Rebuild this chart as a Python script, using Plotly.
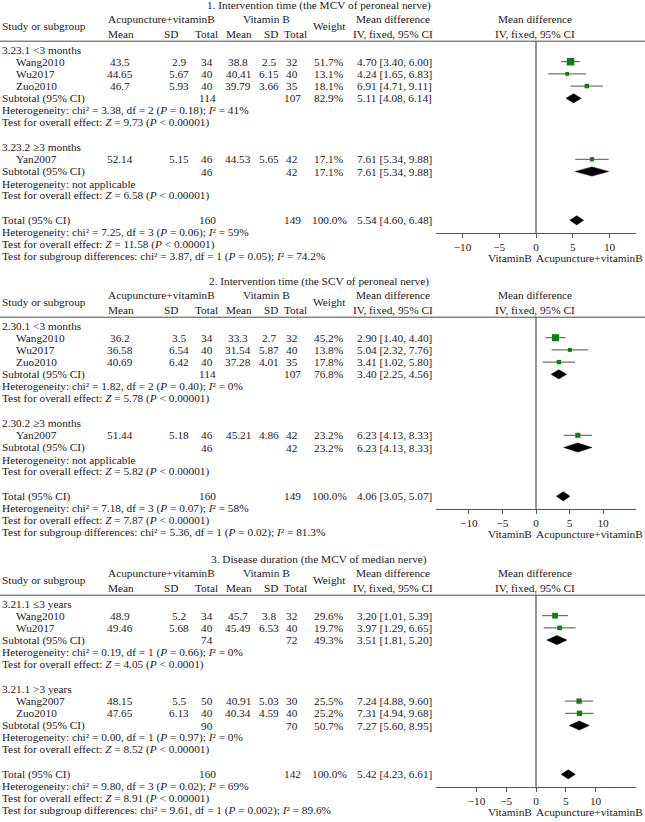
import math
import plotly.graph_objects as go

W, H = 645, 822
FONT = "Liberation Serif"
TXT = "#1c1a1b"

# ---------------- data ----------------
titles = [
    "1. Intervention time (the MCV of peroneal nerve)",
    "2. Intervention time (the SCV of peroneal nerve)",
    "3. Disease duration (the MCV of median nerve)",
]
tick_vals = [-10, -5, 0, 5, 10]
tick_text = ["\u221210", "\u22125", "0", "5", "10"]
axis_left_label = "VitaminB"
axis_right_label = "Acupuncture+vitaminB"

# Panel 1
p1_group_labels = ["3.23.1 &lt;3 months", "3.23.2 \u22653 months"]
p1_study = ["Wang2010", "Wu2017", "Zuo2010", "Yan2007"]
p1_group = [0, 0, 0, 1]
p1_exp_mean = [43.5, 44.65, 46.7, 52.14]
p1_exp_sd = [2.9, 5.67, 5.93, 5.15]
p1_exp_n = [34, 40, 40, 46]
p1_ctl_mean = [38.8, 40.41, 39.79, 44.53]
p1_ctl_sd = [2.5, 6.15, 3.66, 5.65]
p1_ctl_n = [32, 40, 35, 42]
p1_weight = [51.7, 13.1, 18.1, 17.1]
p1_md = [4.70, 4.24, 6.91, 7.61]
p1_lo = [3.40, 1.65, 4.71, 5.34]
p1_hi = [6.00, 6.83, 9.11, 9.88]
p1_sub_exp_n = [114, 46]
p1_sub_ctl_n = [107, 42]
p1_sub_weight = [82.9, 17.1]
p1_sub_md = [5.11, 7.61]
p1_sub_lo = [4.08, 5.34]
p1_sub_hi = [6.14, 9.88]
p1_sub_het = ["chi\u00b2 = 3.38, df = 2 (<i>P</i> = 0.18); <i>I</i>\u00b2 = 41%", "not applicable"]
p1_sub_z = ["<i>Z</i> = 9.73 (<i>P</i> &lt; 0.00001)", "<i>Z</i> = 6.58 (<i>P</i> &lt; 0.00001)"]
p1_total = [160, 149, 100.0, 5.54, 4.60, 6.48]
p1_total_het = "chi\u00b2 = 7.25, df = 3 (<i>P</i> = 0.06); <i>I</i>\u00b2 = 59%"
p1_total_z = "<i>Z</i> = 11.58 (<i>P</i> &lt; 0.00001)"
p1_subdiff = "chi\u00b2 = 3.87, df = 1 (<i>P</i> = 0.05); <i>I</i>\u00b2 = 74.2%"

# Panel 2
p2_group_labels = ["2.30.1 &lt;3 months", "2.30.2 \u22653 months"]
p2_study = ["Wang2010", "Wu2017", "Zuo2010", "Yan2007"]
p2_group = [0, 0, 0, 1]
p2_exp_mean = [36.2, 36.58, 40.69, 51.44]
p2_exp_sd = [3.5, 6.54, 6.42, 5.18]
p2_exp_n = [34, 40, 40, 46]
p2_ctl_mean = [33.3, 31.54, 37.28, 45.21]
p2_ctl_sd = [2.7, 5.87, 4.01, 4.86]
p2_ctl_n = [32, 40, 35, 42]
p2_weight = [45.2, 13.8, 17.8, 23.2]
p2_md = [2.90, 5.04, 3.41, 6.23]
p2_lo = [1.40, 2.32, 1.02, 4.13]
p2_hi = [4.40, 7.76, 5.80, 8.33]
p2_sub_exp_n = [114, 46]
p2_sub_ctl_n = [107, 42]
p2_sub_weight = [76.8, 23.2]
p2_sub_md = [3.40, 6.23]
p2_sub_lo = [2.25, 4.13]
p2_sub_hi = [4.56, 8.33]
p2_sub_het = ["chi\u00b2 = 1.82, df = 2 (<i>P</i> = 0.40); <i>I</i>\u00b2 = 0%", "not applicable"]
p2_sub_z = ["<i>Z</i> = 5.78 (<i>P</i> &lt; 0.00001)", "<i>Z</i> = 5.82 (<i>P</i> &lt; 0.00001)"]
p2_total = [160, 149, 100.0, 4.06, 3.05, 5.07]
p2_total_het = "chi\u00b2 = 7.18, df = 3 (<i>P</i> = 0.07); <i>I</i>\u00b2 = 58%"
p2_total_z = "<i>Z</i> = 7.87 (<i>P</i> &lt; 0.00001)"
p2_subdiff = "chi\u00b2 = 5.36, df = 1 (<i>P</i> = 0.02); <i>I</i>\u00b2 = 81.3%"

# Panel 3
p3_group_labels = ["3.21.1 \u22643 years", "3.21.1 &gt;3 years"]
p3_study = ["Wang2010", "Wu2017", "Wang2007", "Zuo2010"]
p3_group = [0, 0, 1, 1]
p3_exp_mean = [48.9, 49.46, 48.15, 47.65]
p3_exp_sd = [5.2, 5.68, 5.5, 6.13]
p3_exp_n = [34, 40, 50, 40]
p3_ctl_mean = [45.7, 45.49, 40.91, 40.34]
p3_ctl_sd = [3.8, 6.53, 5.03, 4.59]
p3_ctl_n = [32, 40, 30, 40]
p3_weight = [29.6, 19.7, 25.5, 25.2]
p3_md = [3.20, 3.97, 7.24, 7.31]
p3_lo = [1.01, 1.29, 4.88, 4.94]
p3_hi = [5.39, 6.65, 9.60, 9.68]
p3_sub_exp_n = [74, 90]
p3_sub_ctl_n = [72, 70]
p3_sub_weight = [49.3, 50.7]
p3_sub_md = [3.51, 7.27]
p3_sub_lo = [1.81, 5.60]
p3_sub_hi = [5.20, 8.95]
p3_sub_het = ["chi\u00b2 = 0.19, df = 1 (<i>P</i> = 0.66); <i>I</i>\u00b2 = 0%", "chi\u00b2 = 0.00, df = 1 (<i>P</i> = 0.97); <i>I</i>\u00b2 = 0%"]
p3_sub_z = ["<i>Z</i> = 4.05 (<i>P</i> &lt; 0.0001)", "<i>Z</i> = 8.52 (<i>P</i> &lt; 0.00001)"]
p3_total = [160, 142, 100.0, 5.42, 4.23, 6.61]
p3_total_het = "chi\u00b2 = 9.80, df = 3 (<i>P</i> = 0.02); <i>I</i>\u00b2 = 69%"
p3_total_z = "<i>Z</i> = 8.91 (<i>P</i> &lt; 0.00001)"
p3_subdiff = "chi\u00b2 = 9.61, df = 1 (<i>P</i> = 0.002); <i>I</i>\u00b2 = 89.6%"

panels = [
    dict(title=titles[0], glabels=p1_group_labels, study=p1_study, group=p1_group,
         em=p1_exp_mean, esd=p1_exp_sd, en=p1_exp_n, cm=p1_ctl_mean, csd=p1_ctl_sd, cn=p1_ctl_n,
         w=p1_weight, md=p1_md, lo=p1_lo, hi=p1_hi,
         sen=p1_sub_exp_n, scn=p1_sub_ctl_n, sw=p1_sub_weight, smd=p1_sub_md, slo=p1_sub_lo, shi=p1_sub_hi,
         shet=p1_sub_het, sz=p1_sub_z, tot=p1_total, thet=p1_total_het, tz=p1_total_z, sdiff=p1_subdiff),
    dict(title=titles[1], glabels=p2_group_labels, study=p2_study, group=p2_group,
         em=p2_exp_mean, esd=p2_exp_sd, en=p2_exp_n, cm=p2_ctl_mean, csd=p2_ctl_sd, cn=p2_ctl_n,
         w=p2_weight, md=p2_md, lo=p2_lo, hi=p2_hi,
         sen=p2_sub_exp_n, scn=p2_sub_ctl_n, sw=p2_sub_weight, smd=p2_sub_md, slo=p2_sub_lo, shi=p2_sub_hi,
         shet=p2_sub_het, sz=p2_sub_z, tot=p2_total, thet=p2_total_het, tz=p2_total_z, sdiff=p2_subdiff),
    dict(title=titles[2], glabels=p3_group_labels, study=p3_study, group=p3_group,
         em=p3_exp_mean, esd=p3_exp_sd, en=p3_exp_n, cm=p3_ctl_mean, csd=p3_ctl_sd, cn=p3_ctl_n,
         w=p3_weight, md=p3_md, lo=p3_lo, hi=p3_hi,
         sen=p3_sub_exp_n, scn=p3_sub_ctl_n, sw=p3_sub_weight, smd=p3_sub_md, slo=p3_sub_lo, shi=p3_sub_hi,
         shet=p3_sub_het, sz=p3_sub_z, tot=p3_total, thet=p3_total_het, tz=p3_total_z, sdiff=p3_subdiff),
]

# ---------------- layout constants ----------------
PANEL_TOP = [5.5, 281.5, 559.5]
X_RANGE = [13.6, 14.9, 16.8]
ROW0 = 44.0
PITCH = 12.2
DIAM_H = 4.6
GREEN = "#0b7f12"
CI_COLOR = "#505050"
LINE_COLOR = "#4a4a4a"
FS = 11.3

annotations = []
shapes = []
fig = go.Figure()


def text(x, y, s, anchor="left", size=FS):
    annotations.append(dict(
        x=x / W, y=y, xref="paper", yref="y", text=s, showarrow=False,
        xanchor=anchor, yanchor="middle", borderpad=0,
        font=dict(family=FONT, size=size, color=TXT)))


def fmt(v):
    return f"{v:g}"


def md_str(md, lo, hi):
    return f"{md:.2f} [{lo:.2f}, {hi:.2f}]"


COL_EM, COL_ESD, COL_EN = 120, 179, 207
COL_CM, COL_CSD, COL_CN = 238, 268.5, 292
COL_W, COL_MD = 329.2, 355.5

xaxes = {}
for pi, p in enumerate(panels):
    T = PANEL_TOP[pi]
    xa = "x" if pi == 0 else f"x{pi + 1}"
    xkey = "xaxis" if pi == 0 else f"xaxis{pi + 1}"

    # headers
    text(319, T, p["title"], "center")
    text(161.7, T + 13.3, "Acupuncture+vitaminB", "center")
    text(266.7, T + 13.3, "Vitamin B", "center")
    text(392.5, T + 13.3, "Mean difference", "center")
    text(535, T + 13.3, "Mean difference", "center")
    text(0.5, T + 20.8, "Study or subgroup", "left")
    text(329.2, T + 20.8, "Weight", "center")
    for hx, hs in [(121, "Mean"), (171, "SD"), (206.7, "Total"), (239, "Mean"), (270.8, "SD"), (295, "Total")]:
        text(hx, T + 28, hs, "center")
    text(392.5, T + 28, "IV, fixed, 95% CI", "center")
    text(535, T + 28, "IV, fixed, 95% CI", "center")
    shapes.append(dict(type="line", xref="paper", yref="y", x0=0, x1=1,
                       y0=T + 35.7, y1=T + 35.7, line=dict(color=LINE_COLOR, width=1)))

    # rows
    r = 0
    ci_x, ci_y, sq_x, sq_y, sq_s = [], [], [], [], []
    dia_x, dia_y = [], []

    def rowy(k):
        return T + ROW0 + PITCH * k

    def diamond(md, lo, hi, y):
        dia_x.extend([lo, md, hi, md, lo, None])
        dia_y.extend([y, y - DIAM_H, y, y + DIAM_H, y, None])

    for g in range(2):
        text(0.5, rowy(r), p["glabels"][g], "left")
        r += 1
        for i in range(len(p["study"])):
            if p["group"][i] != g:
                continue
            y = rowy(r)
            text(15, y, p["study"][i], "left")
            text(COL_EM, y, fmt(p["em"][i]), "center")
            text(COL_ESD, y, fmt(p["esd"][i]), "center")
            text(COL_EN, y, str(p["en"][i]), "center")
            text(COL_CM, y, fmt(p["cm"][i]), "center")
            text(COL_CSD, y, fmt(p["csd"][i]), "center")
            text(COL_CN, y, str(p["cn"][i]), "center")
            text(COL_W, y, f"{p['w'][i]:.1f}%", "center")
            text(COL_MD, y, md_str(p["md"][i], p["lo"][i], p["hi"][i]), "left")
            ci_x.extend([p["lo"][i], p["hi"][i], None])
            ci_y.extend([y, y, None])
            sq_x.append(p["md"][i])
            sq_y.append(y)
            sq_s.append(1.05 * math.sqrt(p["w"][i]))
            r += 1
        y = rowy(r)
        text(0.5, y, "Subtotal (95% CI)", "left")
        text(COL_EN, y, str(p["sen"][g]), "center")
        text(COL_CN, y, str(p["scn"][g]), "center")
        text(COL_W, y, f"{p['sw'][g]:.1f}%", "center")
        text(COL_MD, y, md_str(p["smd"][g], p["slo"][g], p["shi"][g]), "left")
        diamond(p["smd"][g], p["slo"][g], p["shi"][g], y)
        r += 1
        text(0.5, rowy(r), "Heterogeneity: " + p["shet"][g], "left")
        r += 1
        text(0.5, rowy(r), "Test for overall effect: " + p["sz"][g], "left")
        r += 2

    tot = p["tot"]
    y = rowy(14)
    text(0.5, y, "Total (95% CI)", "left")
    text(COL_EN, y, str(tot[0]), "center")
    text(COL_CN, y, str(tot[1]), "center")
    text(COL_W, y, f"{tot[2]:.1f}%", "center")
    text(COL_MD, y, md_str(tot[3], tot[4], tot[5]), "left")
    diamond(tot[3], tot[4], tot[5], y)
    text(0.5, rowy(15), "Heterogeneity: " + p["thet"], "left")
    text(0.5, rowy(16), "Test for overall effect: " + p["tz"], "left")
    text(0.5, rowy(17), "Test for subgroup differences: " + p["sdiff"], "left")

    axis_y = T + 227.4
    # zero line
    shapes.append(dict(type="line", xref=xa, yref="y", x0=0, x1=0,
                       y0=T + 35.7, y1=axis_y, line=dict(color="#333333", width=1)))
    text(532.5, T + 252, axis_left_label, "right", FS)
    text(643.5, T + 252, axis_right_label, "right", FS)

    fig.add_trace(go.Scatter(x=ci_x, y=ci_y, mode="lines", xaxis=xa, yaxis="y",
                             line=dict(color=CI_COLOR, width=1), hoverinfo="skip", showlegend=False))
    fig.add_trace(go.Scatter(x=sq_x, y=sq_y, mode="markers", xaxis=xa, yaxis="y",
                             marker=dict(symbol="square", size=sq_s, color=GREEN, opacity=1,
                                         line=dict(width=0)),
                             showlegend=False))
    fig.add_trace(go.Scatter(x=dia_x, y=dia_y, mode="lines", fill="toself", xaxis=xa, yaxis="y",
                             fillcolor="black", line=dict(color="black", width=0.5),
                             hoverinfo="skip", showlegend=False))

    ax = dict(domain=[436 / W, 636 / W], range=[-X_RANGE[pi], X_RANGE[pi]],
              anchor="free", position=1 - axis_y / H,
              tickmode="array", tickvals=tick_vals, ticktext=tick_text,
              showline=True, linecolor="#555555", linewidth=1,
              ticks="outside", ticklen=4, tickcolor="#555555", tickwidth=1,
              tickfont=dict(family=FONT, size=FS, color=TXT),
              showgrid=False, zeroline=False, fixedrange=True)
    if pi > 0:
        ax["overlaying"] = "x"
    xaxes[xkey] = ax

fig.update_layout(
    width=W, height=H, autosize=False,
    margin=dict(l=0, r=0, t=0, b=0),
    paper_bgcolor="white", plot_bgcolor="rgba(0,0,0,0)",
    yaxis=dict(domain=[0, 1], range=[H, 0], visible=False, fixedrange=True),
    annotations=annotations, shapes=shapes, showlegend=False,
    **xaxes,
)

fig.write_html("out.html", config={"displayModeBar": False},
               post_script="document.body.style.margin='0';document.body.style.overflow='hidden';")
